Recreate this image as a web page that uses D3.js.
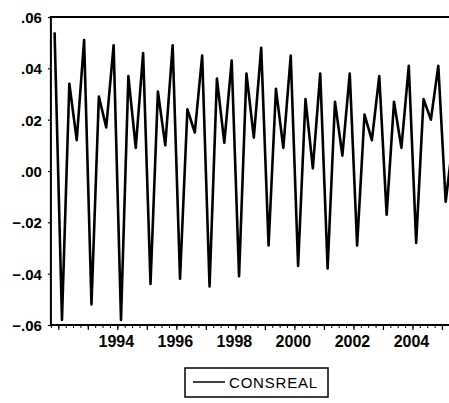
<!DOCTYPE html>
<html>
<head>
<meta charset="utf-8">
<script src="https://cdn.jsdelivr.net/npm/d3@7"></script>
<style>
  body { margin: 0; background: #fff; }
  text { font-family: Arial, "Liberation Sans", sans-serif; fill: #000; }
</style>
</head>
<body>
<div id="chart"></div>
<script>
// quarterly series, first observation 1991Q4
var firstYear = 1991;
var firstQuarter = 4;
var consreal = [
    0.054,
    -0.058, 0.034, 0.012, 0.051,   // 1992
    -0.052, 0.029, 0.017, 0.049,   // 1993
    -0.058, 0.037, 0.009, 0.046,   // 1994
    -0.044, 0.031, 0.010, 0.049,   // 1995
    -0.042, 0.024, 0.015, 0.045,   // 1996
    -0.045, 0.036, 0.011, 0.043,   // 1997
    -0.041, 0.038, 0.013, 0.048,   // 1998
    -0.029, 0.032, 0.009, 0.045,   // 1999
    -0.037, 0.028, 0.001, 0.038,   // 2000
    -0.038, 0.027, 0.006, 0.038,   // 2001
    -0.029, 0.022, 0.012, 0.037,   // 2002
    -0.017, 0.027, 0.009, 0.041,   // 2003
    -0.028, 0.028, 0.020, 0.041,   // 2004
    -0.012, 0.012                  // 2005
];
var yearLabels = [1994, 1996, 1998, 2000, 2002, 2004];
var yTicks = [-0.06, -0.04, -0.02, 0.00, 0.02, 0.04, 0.06];
var seriesName = "CONSREAL";

////////////////////////////////////////////////////////////////////////////////

var width = 449, height = 403;
var plotLeft = 50.9, plotTop = 17, plotBottom = 325;
var qw = 7.379;   // pixels per quarter

// index of an observation from its year and quarter
function obsIndex(year, q) {
    return (year - firstYear) * 4 + (q - firstQuarter);
}

var n = consreal.length;
var x = d3.scaleLinear()
    .domain([-0.5, n - 0.5])
    .range([plotLeft, plotLeft + n * qw]);
var y = d3.scaleLinear()
    .domain([-0.06, 0.06])
    .range([plotBottom, plotTop]);

var svg = d3.select('#chart').append('svg')
    .attr('width', width)
    .attr('height', height);

// y axis
var fmt = function(d) {
    var s = d3.format(".2f")(Math.abs(d) < 1e-9 ? 0 : d);
    return s.replace("0.", ".");
};
var yAxis = svg.append('g')
    .attr('transform', 'translate(' + plotLeft + ',0)')
    .call(d3.axisLeft(y).tickValues(yTicks).tickSize(3).tickPadding(6).tickFormat(fmt));
yAxis.select('.domain').remove();
yAxis.selectAll('line').attr('stroke', '#000').attr('stroke-width', 1.2);
yAxis.selectAll('text')
    .attr('font-size', 15)
    .attr('font-weight', 'bold')
    .attr('dy', '0.36em');

// x axis: quarter ticks, then year ticks with labels
var quarterTicks = d3.range(0, n + 1).map(function(i) { return i - 0.5; });
var xMinor = svg.append('g')
    .attr('transform', 'translate(0,' + plotBottom + ')')
    .call(d3.axisBottom(x).tickValues(quarterTicks).tickSize(3).tickFormat(''));
xMinor.select('.domain').remove();
xMinor.selectAll('line').attr('stroke', '#000').attr('stroke-width', 1);

var yearTicks = d3.range(1992, 2006).map(function(yr) { return obsIndex(yr, 1) - 0.5; });
var xMajor = svg.append('g')
    .attr('transform', 'translate(0,' + plotBottom + ')')
    .call(d3.axisBottom(x).tickValues(yearTicks).tickSize(5).tickFormat(''));
xMajor.select('.domain').remove();
xMajor.selectAll('line').attr('stroke', '#000').attr('stroke-width', 1.2);

svg.append('g').selectAll('text')
    .data(yearLabels)
    .enter().append('text')
    .attr('x', function(d) { return x(obsIndex(d, 1) - 0.5) - 1; })
    .attr('y', 347)
    .attr('text-anchor', 'middle')
    .attr('font-size', 16)
    .attr('font-weight', 'bold')
    .text(function(d) { return d; });

// series line
var line = d3.line()
    .x(function(d, i) { return x(i); })
    .y(function(d) { return y(d); });

svg.append('path')
    .datum(consreal)
    .attr('fill', 'none')
    .attr('stroke', '#000')
    .attr('stroke-width', 2.6)
    .attr('stroke-linejoin', 'round')
    .attr('d', line);

// frame
svg.append('rect')
    .attr('x', x.range()[0])
    .attr('y', plotTop)
    .attr('width', x.range()[1] - x.range()[0])
    .attr('height', plotBottom - plotTop)
    .attr('fill', 'none')
    .attr('stroke', '#000')
    .attr('stroke-width', 2);

// legend
var legend = svg.append('g').attr('transform', 'translate(185,368)');
legend.append('rect')
    .attr('width', 143)
    .attr('height', 29)
    .attr('fill', '#fff')
    .attr('stroke', '#000')
    .attr('stroke-width', 1.5);
legend.append('line')
    .attr('x1', 8).attr('x2', 40)
    .attr('y1', 14).attr('y2', 14)
    .attr('stroke', '#000')
    .attr('stroke-width', 1.5);
legend.append('text')
    .attr('x', 44)
    .attr('y', 20)
    .attr('font-size', 15)
    .attr('letter-spacing', 0.8)
    .text(seriesName);
</script>
</body>
</html>
